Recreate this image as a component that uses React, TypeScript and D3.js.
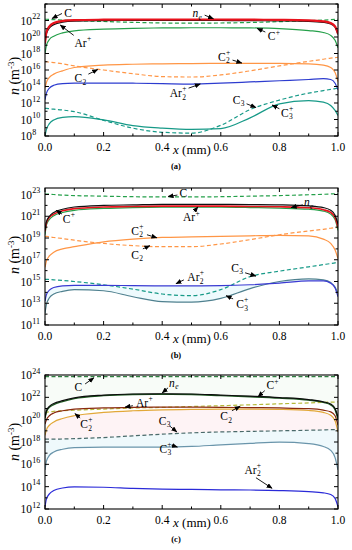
import React from "react";
import * as d3 from "d3";

// x positions (mm) shared by every curve
const XS = [0, 0.005, 0.015, 0.03, 0.06, 0.1, 0.2, 0.3, 0.4, 0.5, 0.6, 0.7, 0.8, 0.9, 0.95, 0.975, 0.99, 1];
const X_TICKS = [0, 0.2, 0.4, 0.6, 0.8, 1.0];

// all densities as log10(n / m^-3)
// (a)
const A_NE = [19.3, 20.6, 21.3, 21.7, 21.95, 22.05, 22.1, 22.12, 22.12, 22.12, 22.12, 22.1, 22.08, 22.02, 21.9, 21.7, 21.3, 20.4];
const A_ARP = [19.1, 20.4, 21.1, 21.5, 21.8, 21.92, 21.98, 22.0, 22.0, 22.0, 22.0, 21.98, 21.95, 21.9, 21.78, 21.58, 21.18, 20.3];
const A_C = [22.15, 22.15, 22.13, 22.1, 22.05, 22.0, 21.88, 21.78, 21.7, 21.68, 21.7, 21.76, 21.86, 21.98, 22.05, 22.1, 22.13, 22.15];
const A_CP = [18.0, 19.0, 19.7, 20.1, 20.5, 20.75, 20.95, 21.05, 21.1, 21.12, 21.12, 21.1, 21.02, 20.78, 20.55, 20.2, 19.6, 18.7];
const A_C2P = [13.8, 14.5, 15.1, 15.5, 15.9, 16.3, 16.6, 16.7, 16.75, 16.78, 16.8, 16.8, 16.8, 16.75, 16.6, 16.3, 15.7, 14.6];
const A_C2 = [17.0, 17.0, 16.95, 16.9, 16.75, 16.5, 16.0, 15.55, 15.2, 15.15, 15.4, 15.9, 16.5, 17.05, 17.3, 17.45, 17.5, 17.55];
const A_AR2P = [12.4, 13.2, 13.8, 14.15, 14.35, 14.4, 14.42, 14.4, 14.35, 14.3, 14.4, 14.55, 14.7, 14.85, 14.95, 14.85, 14.4, 13.6];
const A_C3 = [11.35, 11.35, 11.3, 11.25, 11.15, 10.95, 9.9, 8.95, 8.45, 8.35, 9.3, 11.2, 12.35, 13.2, 13.5, 13.65, 13.75, 13.8];
const A_C3P = [8.0, 8.8, 9.5, 9.95, 10.25, 10.35, 9.95, 9.25, 8.95, 8.8, 8.9, 10.2, 11.9, 12.3, 12.1, 11.7, 11.1, 10.5];

// (b)
const B_NE = [19.7, 20.5, 21.0, 21.35, 21.65, 21.85, 22.0, 22.05, 22.1, 22.1, 22.1, 22.08, 22.05, 21.95, 21.8, 21.55, 21.1, 20.3];
const B_ARP = [19.6, 20.4, 20.9, 21.2, 21.5, 21.7, 21.85, 21.9, 21.93, 21.93, 21.93, 21.9, 21.87, 21.78, 21.6, 21.35, 20.9, 20.0];
const B_CP = [19.3, 20.2, 20.7, 21.05, 21.35, 21.55, 21.72, 21.8, 21.83, 21.83, 21.83, 21.8, 21.75, 21.65, 21.48, 21.2, 20.7, 19.7];
const B_C = [23.05, 23.05, 23.03, 23.0, 22.95, 22.9, 22.85, 22.8, 22.78, 22.78, 22.8, 22.85, 22.9, 22.98, 23.02, 23.05, 23.07, 23.08];
const B_C2P = [16.3, 16.9, 17.35, 17.7, 18.0, 18.2, 18.65, 18.9, 19.05, 19.1, 19.15, 19.2, 19.25, 19.2, 18.9, 18.5, 17.9, 17.1];
const B_C2 = [19.15, 19.15, 19.1, 19.05, 18.95, 18.8, 18.5, 18.3, 18.2, 18.2, 18.45, 18.85, 19.3, 19.65, 19.8, 19.9, 19.95, 19.97];
const B_AR2P = [13.2, 13.8, 14.2, 14.45, 14.6, 14.65, 14.65, 14.62, 14.6, 14.6, 14.62, 14.7, 14.85, 15.05, 15.05, 14.85, 14.4, 13.6];
const B_C3 = [15.2, 15.2, 15.18, 15.15, 15.1, 15.0, 14.7, 14.3, 13.85, 13.7, 14.25, 15.45, 15.95, 16.35, 16.55, 16.65, 16.72, 16.8];
const B_C3P = [12.1, 12.9, 13.5, 13.85, 14.1, 14.25, 14.15, 13.6, 13.15, 13.1, 13.45, 14.35, 15.0, 15.25, 15.15, 14.9, 14.5, 13.9];

// (c)
const C_C = [23.85, 23.85, 23.85, 23.85, 23.85, 23.85, 23.85, 23.85, 23.85, 23.85, 23.85, 23.85, 23.85, 23.85, 23.85, 23.85, 23.85, 23.85];
const C_NE = [20.2, 20.8, 21.2, 21.45, 21.7, 21.95, 22.2, 22.3, 22.32, 22.3, 22.2, 22.1, 21.98, 21.8, 21.6, 21.4, 21.0, 20.2];
const C_CP = [20.1, 20.7, 21.1, 21.35, 21.62, 21.88, 22.15, 22.25, 22.27, 22.25, 22.15, 22.05, 21.93, 21.75, 21.55, 21.33, 20.9, 20.0];
const C_ARP = [19.6, 20.0, 20.35, 20.6, 20.8, 20.95, 21.05, 21.1, 21.12, 21.12, 21.1, 21.08, 21.05, 20.98, 20.85, 20.7, 20.35, 19.5];
const C_C2P = [18.6, 19.1, 19.5, 19.8, 20.1, 20.35, 20.65, 20.8, 20.88, 20.92, 20.95, 20.95, 20.92, 20.82, 20.65, 20.4, 19.9, 18.9];
const C_C2 = [20.6, 20.65, 20.7, 20.75, 20.8, 20.85, 20.95, 21.05, 21.1, 21.18, 21.25, 21.33, 21.42, 21.5, 21.55, 21.57, 21.58, 21.6];
const C_C3 = [18.25, 18.25, 18.25, 18.25, 18.27, 18.3, 18.4, 18.55, 18.7, 18.82, 18.9, 18.95, 19.0, 19.05, 19.08, 19.1, 19.1, 19.12];
const C_C3P = [15.5, 16.3, 16.8, 17.1, 17.35, 17.5, 17.55, 17.55, 17.55, 17.6, 17.75, 17.88, 17.98, 17.85, 17.6, 17.25, 16.6, 15.5];
const C_AR2P = [12.2, 12.9, 13.35, 13.65, 13.88, 13.98, 13.95, 13.85, 13.78, 13.75, 13.72, 13.7, 13.65, 13.55, 13.45, 13.3, 12.95, 12.2];

const A_YTICKS = [8, 10, 12, 14, 16, 18, 20, 22];
const B_YTICKS = [11, 13, 15, 17, 19, 21, 23];
const C_YTICKS = [12, 14, 16, 18, 20, 22, 24];

const FONT = "Liberation Serif, Times New Roman, serif";
const LEFT = 45;
const RIGHT = 338;
const DASH = "4,2.5";

type Series = { v: number[]; color: string; dash?: string; w?: number };
type Fill = { lo: number[]; hi: number[]; color: string };
// text centre (x, log n) and arrow tail -> head, all in data units
type Note = { t: string; sub?: string; sup?: string; it?: boolean; at: [number, number]; tail: [number, number]; head: [number, number] };

const BASE_W: Record<string, number> = { C: 7.4, Ar: 10.2, n: 5.6 };

// species name with stacked sub/superscript, kept in one text element
function Species({ x, y, n }: { x: number; y: number; n: Note }) {
  const w = BASE_W[n.t] ?? 7;
  const x0 = x - w / 2 - (n.sub || n.sup ? 2 : 0);
  const style = n.it ? "italic" : "normal";
  return (
    <text x={x0} y={y + 4} fontSize={11.5} fontFamily={FONT} fill="#000">
      <tspan fontStyle={style}>{n.t}</tspan>
      {n.sub && <tspan fontSize={7.5} dx={0.3} dy={2.5} fontStyle={style}>{n.sub}</tspan>}
      {n.sup && <tspan fontSize={7.5} dx={n.sub ? -3.8 : 0.3} dy={n.sub ? -8.5 : -5.5}>{n.sup}</tspan>}
    </text>
  );
}

function Panel({ id, top, bottom, domain, yTicks, series, fills, notes, caption, titleY }: {
  id: string; top: number; bottom: number; domain: [number, number]; yTicks: number[];
  series: Series[]; fills: Fill[]; notes: Note[]; caption: string; titleY: number;
}) {
  const x = d3.scaleLinear().domain([0, 1]).range([LEFT, RIGHT]);
  const y = d3.scaleLog().domain([10 ** domain[0], 10 ** domain[1]]).range([bottom, top]);
  const Y = (e: number) => y(10 ** e);
  const line = d3.line<number>().x((_, i) => x(XS[i])).y((d) => Y(d)).curve(d3.curveMonotoneX);
  const decades = d3.range(Math.ceil(domain[0]), Math.floor(domain[1]) + 1);
  const xMinor = d3.range(0, 1.0001, 0.1);

  return (
    <g>
      <defs>
        <clipPath id={`clip-${id}`}>
          <rect x={LEFT} y={top} width={RIGHT - LEFT} height={bottom - top} />
        </clipPath>
      </defs>
      <g clipPath={`url(#clip-${id})`}>
        {fills.map((f, i) => (
          <path key={i} fill={f.color} stroke="none"
            d={d3.area<number>().x((_, j) => x(XS[j])).y0((_, j) => Y(f.lo[j])).y1((d) => Y(d)).curve(d3.curveMonotoneX)(f.hi) ?? ""} />
        ))}
        {series.map((s, i) => (
          <path key={i} d={line(s.v) ?? ""} fill="none" stroke={s.color} strokeWidth={s.w ?? 1.2}
            strokeDasharray={s.dash} strokeLinejoin="round" />
        ))}
      </g>

      {/* frame */}
      <rect x={LEFT} y={top} width={RIGHT - LEFT} height={bottom - top} fill="none" stroke="#000" strokeWidth={1.1} />

      {/* y ticks, both sides */}
      {decades.map((e) => {
        const len = yTicks.includes(e) ? 4 : 2.5;
        return (
          <g key={e} stroke="#000" strokeWidth={1}>
            <line x1={LEFT} x2={LEFT + len} y1={Y(e)} y2={Y(e)} />
            <line x1={RIGHT} x2={RIGHT - len} y1={Y(e)} y2={Y(e)} />
          </g>
        );
      })}
      {yTicks.map((e) => (
        <g key={e} fontFamily={FONT} fill="#000">
          <text x={32} y={Y(e) + 4} fontSize={11.5} textAnchor="end">10</text>
          <text x={32.3} y={Y(e) - 1.5} fontSize={8}>{e}</text>
        </g>
      ))}

      {/* x ticks */}
      {xMinor.map((v, i) => {
        const len = i % 2 === 0 ? 4 : 2.5;
        return (
          <g key={i} stroke="#000" strokeWidth={1}>
            <line x1={x(v)} x2={x(v)} y1={bottom} y2={bottom - len} />
            <line x1={x(v)} x2={x(v)} y1={top} y2={top + len} />
          </g>
        );
      })}
      {X_TICKS.map((v) => (
        <text key={v} x={x(v)} y={bottom + 15} fontSize={11.5} fontFamily={FONT} textAnchor="middle">{v.toFixed(1)}</text>
      ))}
      <text x={192} y={bottom + 18} fontSize={13} fontFamily={FONT} textAnchor="middle">
        <tspan fontStyle="italic">x</tspan> (mm)
      </text>
      <text transform={`translate(19,${titleY}) rotate(-90)`} fontSize={14} fontFamily={FONT} textAnchor="middle">
        <tspan fontStyle="italic">n</tspan> (m<tspan fontSize={9} dy={-5}>-3</tspan><tspan dy={5}>)</tspan>
      </text>
      <text x={176} y={bottom + 33} fontSize={8.5} fontWeight="bold" fontFamily={FONT} textAnchor="middle">{caption}</text>

      {/* annotations */}
      {notes.map((n, i) => (
        <g key={i}>
          <line x1={x(n.tail[0])} y1={Y(n.tail[1])} x2={x(n.head[0])} y2={Y(n.head[1])}
            stroke="#000" strokeWidth={0.9} markerEnd="url(#arrow)" />
          <Species x={x(n.at[0])} y={Y(n.at[1])} n={n} />
        </g>
      ))}
    </g>
  );
}

const ORANGE = "#ff9646";
const GREEN = "#25a04a";
const TEAL = "#179a88";

const PANEL_A: Series[] = [
  { v: A_C3P, color: TEAL },
  { v: A_C3, color: TEAL, dash: DASH },
  { v: A_AR2P, color: "#2d3ccf" },
  { v: A_C2, color: ORANGE, dash: DASH },
  { v: A_C2P, color: ORANGE },
  { v: A_CP, color: GREEN },
  { v: A_C, color: GREEN, dash: DASH },
  { v: A_ARP, color: "#111" },
  { v: A_NE, color: "#e8121c", w: 2.2 },
];
const NOTES_A: Note[] = [
  { t: "C", at: [0.078, 22.95], tail: [0.058, 22.85], head: [0.024, 22.25] },
  { t: "n", sub: "e", it: true, at: [0.52, 22.85], tail: [0.545, 22.65], head: [0.575, 22.2] },
  { t: "Ar", sup: "+", at: [0.125, 19.3], tail: [0.098, 20.2], head: [0.052, 21.45] },
  { t: "C", sup: "+", at: [0.78, 20.1], tail: [0.752, 20.6], head: [0.724, 21.05] },
  { t: "C", sub: "2", sup: "+", at: [0.61, 17.6], tail: [0.64, 17.2], head: [0.672, 16.85] },
  { t: "C", sub: "2", at: [0.12, 15.0], tail: [0.148, 15.5], head: [0.18, 16.05] },
  { t: "Ar", sub: "2", sup: "+", at: [0.45, 13.2], tail: [0.49, 13.8], head: [0.53, 14.3] },
  { t: "C", sub: "3", at: [0.66, 12.4], tail: [0.688, 11.9], head: [0.72, 11.45] },
  { t: "C", sub: "3", sup: "+", at: [0.825, 10.8], tail: [0.8, 11.3], head: [0.775, 11.75] },
];

const PANEL_B: Series[] = [
  { v: B_C3P, color: "#4f808f" },
  { v: B_C3, color: TEAL, dash: DASH },
  { v: B_AR2P, color: "#3a3ad2" },
  { v: B_C2, color: ORANGE, dash: DASH },
  { v: B_C2P, color: ORANGE },
  { v: B_C, color: GREEN, dash: DASH },
  { v: B_CP, color: GREEN },
  { v: B_ARP, color: "#e8121c", w: 1.6 },
  { v: B_NE, color: "#111" },
];
const FILLS_B: Fill[] = [{ lo: B_C3P, hi: B_AR2P, color: "#eefafd" }];
const NOTES_B: Note[] = [
  { t: "C", at: [0.472, 23.1], tail: [0.452, 22.95], head: [0.42, 22.82] },
  { t: "n", sub: "e", it: true, at: [0.9, 22.3], tail: [0.88, 22.05], head: [0.84, 21.8] },
  { t: "Ar", sup: "+", at: [0.495, 20.9], tail: [0.509, 21.45], head: [0.522, 21.86] },
  { t: "C", sup: "+", at: [0.08, 20.75], tail: [0.058, 21.2], head: [0.038, 21.55] },
  { t: "C", sub: "2", sup: "+", at: [0.314, 19.65], tail: [0.348, 19.3], head: [0.382, 19.02] },
  { t: "C", sub: "2", at: [0.314, 17.45], tail: [0.334, 18.0], head: [0.358, 18.3] },
  { t: "Ar", sub: "2", sup: "+", at: [0.51, 15.4], tail: [0.474, 15.15], head: [0.447, 14.8] },
  { t: "C", sub: "3", at: [0.655, 16.25], tail: [0.683, 15.8], head: [0.72, 15.5] },
  { t: "C", sub: "3", sup: "+", at: [0.672, 12.9], tail: [0.642, 13.4], head: [0.618, 13.7] },
];

const PANEL_C: Series[] = [
  { v: C_C, color: "#2f8040", dash: DASH },
  { v: C_AR2P, color: "#2a2ad8" },
  { v: C_C3P, color: "#6a95ab" },
  { v: C_C3, color: "#4a6a6a", dash: DASH },
  { v: C_C2P, color: "#e2a838" },
  { v: C_C2, color: "#b5b93a", dash: DASH },
  { v: C_ARP, color: "#8a2a10" },
  { v: C_CP, color: "#1f5c22", w: 1.4 },
  { v: C_NE, color: "#0d0d0d", w: 1.2 },
];
const FILLS_C: Fill[] = [
  { lo: C_NE, hi: C_C, color: "#f8fcf8" },
  { lo: C_C3, hi: C_C2P, color: "#fef3f5" },
  { lo: C_C3P, hi: C_C3, color: "#eff9fc" },
];
const NOTES_C: Note[] = [
  { t: "C", at: [0.113, 22.9], tail: [0.137, 23.2], head: [0.167, 23.75] },
  { t: "n", sub: "e", it: true, at: [0.44, 23.3], tail: [0.42, 22.85], head: [0.4, 22.4] },
  { t: "C", sup: "+", at: [0.775, 23.1], tail: [0.75, 22.6], head: [0.727, 22.05] },
  { t: "Ar", sup: "+", at: [0.335, 21.5], tail: [0.3, 21.25], head: [0.273, 21.12] },
  { t: "C", sub: "2", sup: "+", at: [0.14, 19.6], tail: [0.12, 20.15], head: [0.102, 20.55] },
  { t: "C", sub: "2", at: [0.618, 20.3], tail: [0.638, 20.8], head: [0.666, 21.2] },
  { t: "C", sub: "3", at: [0.408, 19.9], tail: [0.427, 19.4], head: [0.45, 18.9] },
  { t: "C", sub: "3", sup: "+", at: [0.41, 17.4], tail: [0.432, 17.7], head: [0.452, 17.55] },
  { t: "Ar", sub: "2", sup: "+", at: [0.705, 15.5], tail: [0.72, 14.8], head: [0.775, 13.85] },
];

export default function App() {
  return (
    <div style={{ position: "absolute", left: 0, top: 0 }}>
      <svg width={352} height={550} style={{ display: "block", background: "#fff" }}>
        <defs>
          <marker id="arrow" markerWidth={6} markerHeight={5} refX={5.5} refY={2.5} orient="auto" markerUnits="userSpaceOnUse">
            <path d="M0,0 L6,2.5 L0,5 Z" fill="#000" />
          </marker>
        </defs>
        <Panel id="a" top={4} bottom={136} domain={[8, 24]} yTicks={A_YTICKS} series={PANEL_A} fills={[]}
          notes={NOTES_A} caption="(a)" titleY={76} />
        <Panel id="b" top={188} bottom={325} domain={[11, 23.6]} yTicks={B_YTICKS} series={PANEL_B} fills={FILLS_B}
          notes={NOTES_B} caption="(b)" titleY={255} />
        <Panel id="c" top={375} bottom={509} domain={[12, 24]} yTicks={C_YTICKS} series={PANEL_C} fills={FILLS_C}
          notes={NOTES_C} caption="(c)" titleY={442} />
      </svg>
    </div>
  );
}
